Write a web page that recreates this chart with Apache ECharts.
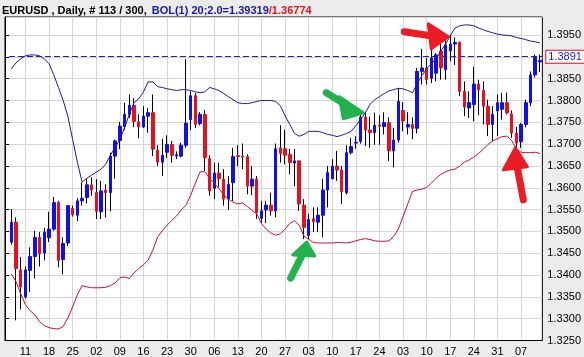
<!DOCTYPE html>
<html><head><meta charset="utf-8">
<script src="https://cdn.jsdelivr.net/npm/echarts@6/dist/echarts.min.js"></script>
<style>html,body{margin:0;padding:0;background:#ececec}#c{width:584px;height:357px}</style>
</head><body><div id="c"></div>
<script>
const dates = [
'2013-11-06','2013-11-07','2013-11-08','2013-11-11','2013-11-12','2013-11-13','2013-11-14','2013-11-15',
'2013-11-18','2013-11-19','2013-11-20','2013-11-21','2013-11-22','2013-11-25','2013-11-26','2013-11-27','2013-11-28','2013-11-29',
'2013-12-02','2013-12-03','2013-12-04','2013-12-05','2013-12-06','2013-12-09','2013-12-10','2013-12-11','2013-12-12','2013-12-13',
'2013-12-16','2013-12-17','2013-12-18','2013-12-19','2013-12-20','2013-12-23','2013-12-24','2013-12-25','2013-12-26','2013-12-27',
'2013-12-30','2013-12-31','2014-01-01','2014-01-02','2014-01-03','2014-01-06','2014-01-07','2014-01-08','2014-01-09','2014-01-10',
'2014-01-13','2014-01-14','2014-01-15','2014-01-16','2014-01-17','2014-01-20','2014-01-21','2014-01-22','2014-01-23','2014-01-24',
'2014-01-27','2014-01-28','2014-01-29','2014-01-30','2014-01-31','2014-02-03','2014-02-04','2014-02-05','2014-02-06','2014-02-07',
'2014-02-10','2014-02-11','2014-02-12','2014-02-13','2014-02-14','2014-02-17','2014-02-18','2014-02-19','2014-02-20','2014-02-21',
'2014-02-24','2014-02-25','2014-02-26','2014-02-27','2014-02-28','2014-03-03','2014-03-04','2014-03-05','2014-03-06','2014-03-07',
'2014-03-10','2014-03-11','2014-03-12','2014-03-13','2014-03-14','2014-03-17','2014-03-18','2014-03-19','2014-03-20','2014-03-21',
'2014-03-24','2014-03-25','2014-03-26','2014-03-27','2014-03-28','2014-03-31','2014-04-01','2014-04-02','2014-04-03','2014-04-04',
'2014-04-07','2014-04-08','2014-04-09','2014-04-10','2014-04-11'];

const open = [
1.3473,1.3519,1.3409,1.3347,1.3408,1.3440,1.3484,1.3448,1.3483,1.3503,1.3564,1.3433,1.3471,1.3551,1.3535,1.3568,1.3576,1.3605,
1.3587,1.3543,1.3593,1.3587,1.3671,1.3707,1.3739,1.3767,1.3788,1.3750,1.3738,1.3763,1.3771,1.3684,1.3657,1.3680,1.3698,1.3671,
1.3671,1.3696,1.3755,1.3810,1.3746,1.3767,1.3665,1.3597,1.3632,1.3618,1.3572,1.3610,1.3672,1.3671,1.3670,1.3602,1.3618,1.3528,
1.3547,1.3558,1.3545,1.3690,1.3688,1.3675,1.3655,1.3660,1.3558,1.3488,1.3527,1.3519,1.3535,1.3593,1.3619,1.3648,1.3639,1.3587,
1.3679,1.3701,1.3705,1.3761,1.3731,1.3725,1.3743,1.3739,1.3748,1.3683,1.3708,1.3776,1.3738,1.3744,1.3735,1.3866,1.3874,1.3850,
1.3862,1.3913,1.3870,1.3913,1.3929,1.3933,1.3820,1.3782,1.3790,1.3837,1.3822,1.3786,1.3744,1.3775,1.3779,1.3794,1.3768,1.3724,
1.3704,1.3744,1.3794,1.3858,1.3888];
const high = [
1.3549,1.3530,1.3439,1.3417,1.3461,1.3499,1.3496,1.3506,1.3543,1.3577,1.3568,1.3484,1.3557,1.3557,1.3574,1.3610,1.3619,1.3622,
1.3618,1.3614,1.3606,1.3679,1.3709,1.3750,1.3794,1.3813,1.3805,1.3767,1.3786,1.3782,1.3813,1.3696,1.3711,1.3719,1.3706,1.3682,
1.3702,1.3894,1.3820,1.3816,1.3772,1.3777,1.3673,1.3656,1.3656,1.3641,1.3625,1.3690,1.3696,1.3700,1.3675,1.3648,1.3625,1.3568,
1.3568,1.3587,1.3700,1.3742,1.3732,1.3688,1.3687,1.3661,1.3572,1.3538,1.3553,1.3553,1.3619,1.3648,1.3664,1.3683,1.3648,1.3696,
1.3713,1.3717,1.3771,1.3771,1.3762,1.3771,1.3765,1.3772,1.3760,1.3736,1.3828,1.3795,1.3772,1.3760,1.3874,1.3918,1.3897,1.3918,
1.3908,1.3960,1.3942,1.3950,1.3944,1.3935,1.3843,1.3820,1.3877,1.3847,1.3843,1.3801,1.3786,1.3813,1.3817,1.3817,1.3776,1.3738,
1.3747,1.3801,1.3866,1.3905,1.3905];
const low = [
1.3467,1.3293,1.3318,1.3343,1.3358,1.3389,1.3417,1.3431,1.3473,1.3499,1.3415,1.3399,1.3464,1.3532,1.3521,1.3557,1.3562,1.3580,
1.3526,1.3526,1.3530,1.3544,1.3619,1.3687,1.3731,1.3759,1.3738,1.3712,1.3736,1.3725,1.3671,1.3648,1.3625,1.3667,1.3656,1.3664,
1.3668,1.3690,1.3731,1.3736,1.3742,1.3637,1.3580,1.3572,1.3599,1.3557,1.3547,1.3568,1.3648,1.3641,1.3583,1.3581,1.3526,1.3517,
1.3517,1.3534,1.3530,1.3656,1.3652,1.3629,1.3602,1.3545,1.3480,1.3480,1.3496,1.3496,1.3484,1.3553,1.3618,1.3614,1.3561,1.3583,
1.3675,1.3688,1.3700,1.3694,1.3690,1.3697,1.3697,1.3721,1.3660,1.3645,1.3702,1.3728,1.3721,1.3710,1.3723,1.3836,1.3836,1.3839,
1.3843,1.3847,1.3847,1.3889,1.3881,1.3809,1.3763,1.3759,1.3751,1.3765,1.3744,1.3717,1.3705,1.3717,1.3755,1.3767,1.3713,1.3690,
1.3690,1.3737,1.3786,1.3852,1.3865];
const close = [
1.3519,1.3412,1.3370,1.3409,1.3440,1.3484,1.3446,1.3496,1.3503,1.3564,1.3431,1.3470,1.3557,1.3536,1.3568,1.3574,1.3605,1.3593,
1.3544,1.3591,1.3587,1.3671,1.3706,1.3740,1.3767,1.3788,1.3751,1.3738,1.3763,1.3771,1.3687,1.3657,1.3673,1.3698,1.3673,1.3674,
1.3696,1.3747,1.3810,1.3744,1.3767,1.3667,1.3591,1.3632,1.3619,1.3572,1.3606,1.3670,1.3670,1.3669,1.3602,1.3618,1.3541,1.3545,
1.3558,1.3545,1.3688,1.3677,1.3673,1.3656,1.3660,1.3561,1.3507,1.3525,1.3520,1.3535,1.3593,1.3633,1.3648,1.3639,1.3589,1.3679,
1.3693,1.3703,1.3761,1.3731,1.3725,1.3742,1.3740,1.3748,1.3683,1.3708,1.3797,1.3752,1.3744,1.3735,1.3866,1.3874,1.3847,1.3897,
1.3904,1.3874,1.3927,1.3929,1.3933,1.3820,1.3784,1.3794,1.3837,1.3824,1.3786,1.3744,1.3767,1.3794,1.3794,1.3771,1.3724,1.3701,
1.3744,1.3794,1.3858,1.3898,1.3891];

const bbUpper = [
1.3872,1.3886,1.3895,1.3902,1.3904,1.3904,1.3902,1.3895,1.3884,1.3858,1.3829,1.3799,1.3762,1.3709,1.3657,1.3611,1.3620,1.3627,
1.3634,1.3641,1.3652,1.3673,1.3691,1.3709,1.3737,1.3767,1.3794,1.3803,1.3819,1.3842,1.3842,1.3831,1.3829,1.3826,1.3824,1.3822,
1.3824,1.3824,1.3822,1.3819,1.3817,1.3819,1.3829,1.3826,1.3822,1.3815,1.3808,1.3801,1.3794,1.3792,1.3792,1.3794,1.3797,1.3799,
1.3799,1.3799,1.3797,1.3787,1.3764,1.3744,1.3723,1.3717,1.3721,1.3728,1.3728,1.3728,1.3725,1.3721,1.3719,1.3716,1.3719,1.3723,
1.3728,1.3741,1.3755,1.3771,1.3790,1.3801,1.3808,1.3815,1.3821,1.3824,1.3827,1.3826,1.3822,1.3817,1.3838,1.3856,1.3872,1.3884,
1.3895,1.3913,1.3929,1.3948,1.3966,1.3971,1.3973,1.3973,1.3971,1.3966,1.3962,1.3958,1.3955,1.3952,1.3950,1.3949,1.3948,1.3944,
1.3942,1.3939,1.3936,1.3934,1.3932];
const bbLower = [
1.3400,1.3382,1.3354,1.3329,1.3315,1.3306,1.3290,1.3281,1.3276,1.3274,1.3273,1.3279,1.3299,1.3324,1.3352,1.3373,1.3370,1.3368,
1.3368,1.3368,1.3369,1.3373,1.3379,1.3391,1.3393,1.3389,1.3402,1.3412,1.3421,1.3432,1.3455,1.3485,1.3499,1.3512,1.3523,1.3533,
1.3547,1.3558,1.3581,1.3609,1.3635,1.3635,1.3620,1.3609,1.3596,1.3582,1.3572,1.3565,1.3561,1.3563,1.3555,1.3546,1.3538,1.3516,
1.3503,1.3494,1.3489,1.3492,1.3503,1.3516,1.3522,1.3512,1.3487,1.3480,1.3472,1.3471,1.3471,1.3471,1.3471,1.3472,1.3472,1.3471,
1.3473,1.3476,1.3479,1.3481,1.3479,1.3476,1.3475,1.3475,1.3476,1.3486,1.3503,1.3532,1.3561,1.3590,1.3593,1.3595,1.3599,1.3609,
1.3620,1.3629,1.3635,1.3639,1.3641,1.3648,1.3657,1.3662,1.3669,1.3677,1.3687,1.3698,1.3706,1.3711,1.3716,1.3717,1.3707,1.3687,
1.3680,1.3679,1.3679,1.3680,1.3677];

const lastPrice = 1.3891;
const yMin = 1.3250, yMax = 1.39913, yStep = 0.005;
const titleMain = 'EURUSD , Daily, # 113 / 300,';
const titleUpper = 'BOL(1) 20;2.0=1.39319';
const titleLower = '/1.36774';

const UP = '#1010e8', DOWN = '#e8101c';
const isMonday = d => new Date(d + 'T00:00:00Z').getUTCDay() === 1;
const mondays = dates.filter(isMonday);

const chart = echarts.init(document.getElementById('c'), null, {renderer: 'canvas'});
const FONT = 'Liberation Sans, Arial, sans-serif';
const candleWick = dates.map((d, i) => [open[i], close[i], low[i], high[i]]);
const candleBody = dates.map((d, i) => [open[i], close[i], Math.min(open[i], close[i]), Math.max(open[i], close[i])]);

chart.setOption({
  animation: false,
  backgroundColor: '#ececec',
  title: {
    left: 2, top: 2, padding: 0,
    text: '{a|' + titleMain + '} {b|' + titleUpper + '}{c|' + titleLower + '}',
    textStyle: { rich: {
      a: {color: '#000', fontSize: 11, fontFamily: FONT},
      b: {color: '#1a1aa8', fontSize: 11, fontFamily: FONT},
      c: {color: '#e8101c', fontSize: 11, fontFamily: FONT}
    }}
  },
  grid: [
    {left: 8.94, width: 533.36, top: 17, height: 323.5, show: false},
    {left: 5, width: 540, top: 17, height: 323.5, show: true, backgroundColor: '#fff', borderColor: '#000', borderWidth: 1, z: 0}
  ],
  xAxis: [
    {type: 'category', gridIndex: 0, data: dates, boundaryGap: true,
     axisLine: {show: false}, axisTick: {show: false}, splitLine: {show: false},
     axisLabel: {interval: (idx, val) => isMonday(val), formatter: v => v.slice(8, 10),
                 color: '#000', fontSize: 11, fontFamily: FONT, margin: 7}},
    {type: 'value', gridIndex: 1, min: 0, max: 1, show: true, axisLine: {show: true, lineStyle: {color: '#000'}},
     axisTick: {show: false}, axisLabel: {show: false}, splitLine: {show: false}}
  ],
  yAxis: [
    {type: 'value', gridIndex: 0, min: yMin, max: yMax, interval: yStep, show: false, splitLine: {show: false}},
    {type: 'value', gridIndex: 1, position: 'right', min: yMin, max: yMax, interval: yStep,
     axisLine: {show: true, lineStyle: {color: '#000'}},
     axisTick: {show: true, length: 4, lineStyle: {color: '#000'}},
     axisLabel: {formatter: v => v.toFixed(4), color: '#000', fontSize: 11, fontFamily: FONT, margin: 5, showMaxLabel: false},
     splitLine: {show: true, lineStyle: {color: '#d6d6d6', width: 1}}}
  ],
  series: [
    {type: 'line', xAxisIndex: 0, yAxisIndex: 0, data: dates.map(() => '-'), z: 1, silent: true,
     markLine: {silent: true, symbol: 'none', z: 1, animation: false, label: {show: false},
                lineStyle: {color: '#d6d6d6', type: 'solid', width: 1},
                data: mondays.map(d => ({xAxis: d}))}},
    {name: 'wick', type: 'candlestick', xAxisIndex: 0, yAxisIndex: 0, data: candleWick, barWidth: 1, z: 3,
     itemStyle: {color: '#000', color0: '#000', borderColor: '#000', borderColor0: '#000', borderWidth: 1}},
    {name: 'body', type: 'candlestick', xAxisIndex: 0, yAxisIndex: 0, data: candleBody, barWidth: 3, z: 4,
     itemStyle: {color: UP, color0: DOWN, borderColor: UP, borderColor0: DOWN, borderWidth: 1},
     markLine: {silent: true, symbol: 'none', z: 4, animation: false,
                lineStyle: {color: '#1a1ad0', type: [6, 3], width: 1},
                label: {show: true, position: 'end', formatter: () => lastPrice.toFixed(4), color: '#1a1ad0',
                        fontSize: 11, fontFamily: FONT, backgroundColor: '#fff', borderColor: '#e8101c',
                        borderWidth: 1, padding: [1, 2, 0, 2], distance: 4},
                data: [{yAxis: lastPrice}]}},
    {name: 'upper', type: 'line', xAxisIndex: 0, yAxisIndex: 0, data: bbUpper, symbol: 'none', z: 5,
     lineStyle: {color: '#1c1c9c', width: 1}},
    {name: 'lower', type: 'line', xAxisIndex: 0, yAxisIndex: 0, data: bbLower, symbol: 'none', z: 5,
     lineStyle: {color: '#c8102a', width: 1}}
  ]
});

// hand-drawn annotation arrows, anchored on data points
function px(i, v) { return chart.convertToPixel({xAxisIndex: 0, yAxisIndex: 0}, [i, v]); }
function arrow(tip, tail, neck, headA, headB, color) {
  const t = tip;
  return [
    {type: 'polyline', z: 50, shape: {points: [[t[0] + tail[0], t[1] + tail[1]], [t[0] + neck[0], t[1] + neck[1]]]},
     style: {stroke: color, lineWidth: 7, lineCap: 'round', fill: null}},
    {type: 'polygon', z: 50, shape: {points: [t, [t[0] + headA[0], t[1] + headA[1]], [t[0] + headB[0], t[1] + headB[1]]]},
     style: {fill: color, stroke: color, lineWidth: 3, lineJoin: 'round'}}
  ];
}
const GREEN = '#22b14c', RED = '#ed1c24';
const g1 = px(63, low[63]);
const g2 = px(75, bbUpper[75]);
const r1 = px(93, bbUpper[93]);
const r2 = px(107, low[107]);
chart.setOption({graphic: [].concat(
  arrow([g1[0] - 2, g1[1] + 3], [-16, 36], [-4, 12], [-14, 13], [8, 14], GREEN),
  arrow([g2[0] - 2, g2[1]], [-37, -20], [-16, -7], [-24, -16], [-20, 6], GREEN),
  arrow([r1[0] - 2, r1[1] + 1], [-44, -5], [-18, -1], [-20, -13], [-17, 12], RED),
  arrow([r2[0] - 1, r2[1]], [8, 52], [2, 20], [-12, 22], [12, 19], RED)
)});
</script>
</body></html>
